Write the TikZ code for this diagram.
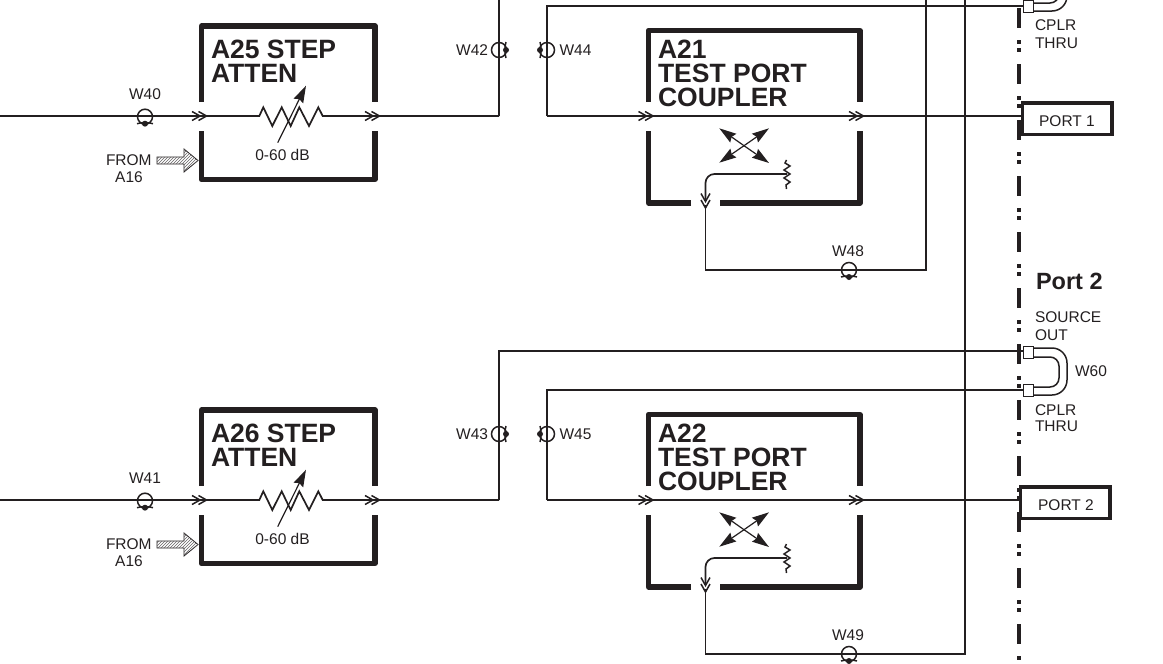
\documentclass[tikz,border=0pt]{standalone}
\usepackage{fontspec}
\setmainfont{Liberation Sans}
\usetikzlibrary{arrows.meta,patterns}
\definecolor{ink}{HTML}{231F20}
\tikzset{
  x=1pt,y=-1pt,
  every node/.style={inner sep=0pt,outer sep=0pt,text=ink},
  wire/.style={draw=ink,line width=1.7pt,line join=miter},
  frame/.style={draw=ink,line width=5.4pt,line join=round,line cap=butt},
  thin wire/.style={draw=ink,line width=1.5pt},
  small/.style={font=\fontsize{15.5}{17}\selectfont},
  title/.style={font=\fontsize{26.5}{28}\selectfont\bfseries,anchor=base west},
  big tip/.style={-{Stealth[length=17pt,width=10.5pt,inset=2pt]}},
  chevrons/.pic={
    \draw[thin wire,fill=none] (-8,-4.5)--(0,0)--(-8,4.5);
    \draw[thin wire,fill=none] (-1.5,-4.5)--(6.5,0)--(-1.5,4.5);
  },
  wsym/.pic={
    \draw[thin wire] (0,0) circle (7.5);
    \fill[ink] (0,7) circle (3);
    \draw[thin wire] (-8,7) .. controls (-3,5.5) and (3,5.5) .. (8,7);
  },
  connsq/.style={draw=ink,fill=white,line width=1.4pt,minimum width=10.5pt,minimum height=12.5pt}
}
\newcommand{\portrow}[8]{%
  % #1 prefix, #2 atten title, #3 input wire label, #4 left wire label, #5 right wire label
  % #6 coupler title, #7 return label baseline, #8 return wire label
  \coordinate (#1in) at (0,116);
  \coordinate (#1up) at (499,116);
  \coordinate (#1cin) at (547,116);
  \coordinate (#1cout) at (1021,116);
  % attenuator box
  \draw[frame] (201.5,102)--(201.5,26)--(375,26)--(375,102);
  \draw[frame] (375,131)--(375,179.5)--(201.5,179.5)--(201.5,131);
  \node[title] (#1att) at (211,58.3) {#2};
  \node[title] (#1attb) at (211,82.7) {ATTEN};
  % through line with resistor
  \draw[wire] (#1in)--(259.3,116)--(263.3,107.3)--(272.3,126)--(281.7,107.3)--(290.7,126)--(299.3,107.3)--(309,126)--(318.3,107.3)--(322.7,116)--(#1up);
  \draw[draw=ink,line width=1.2pt,big tip] (277.7,142.7)--(306,85.7);
  \node[small,anchor=base] (#1db) at (282.5,160) {0-60 dB};
  \pic at (200,116) {chevrons};
  \pic at (373,116) {chevrons};
  \pic at (145,116.7) {wsym};
  \node[small,anchor=base] (#1wa) at (145,99) {#3};
  % from A16
  \node[small,anchor=base west] (#1from) at (106,165) {FROM};
  \node[small,anchor=base] (#1afrom) at (129,182.7) {A16};
  \path[draw=ink,line width=.8pt,fill=white] (157,157)--(184,157)--(184,149)--(198,160.5)--(184,172)--(184,164)--(157,164)--cycle;
  \path[pattern=north east lines,pattern color=ink!70] (157,157)--(184,157)--(184,149)--(198,160.5)--(184,172)--(184,164)--(157,164)--cycle;
  % coupler box
  \draw[frame] (648.5,102)--(648.5,30.5)--(860,30.5)--(860,102);
  \draw[frame] (860,131)--(860,203)--(720,203);
  \draw[frame] (691,203)--(648.5,203)--(648.5,131);
  \node[title] (#1cpa) at (658,58) {#6};
  \node[title] (#1cpb) at (658,82.5) {TEST PORT};
  \node[title] (#1cpc) at (658,106) {COUPLER};
  \draw[wire] (#1cin)--(#1cout);
  \pic at (646.5,116) {chevrons};
  \pic at (857,116) {chevrons};
  \pic[rotate=90] at (499,50) {wsym};
  \pic[rotate=-90] at (547,50) {wsym};
  \node[small,anchor=base east] (#1wl) at (488,55) {#4};
  \node[small,anchor=base west] (#1wr) at (559.5,55) {#5};
  % cross arrows
  \coordinate (#1x) at (744,145.7);
  \draw[draw=ink,line width=1.2pt,big tip] (#1x)--(719.3,128.3);
  \draw[draw=ink,line width=1.2pt,big tip] (#1x)--(769,128.3);
  \draw[draw=ink,line width=1.2pt,big tip] (#1x)--(719.3,162.7);
  \draw[draw=ink,line width=1.2pt,big tip] (#1x)--(769,163);
  % coupled arm
  \coordinate (#1term) at (787,174);
  \draw[wire,rounded corners=9pt] (#1term)--(705.5,174)--(705.5,200);
  \draw[thin wire] (786.5,160)--(785,163)--(790,166)--(784,170)--(790,174)--(784,178)--(790,182)--(786,185)--(786.5,189);
  \pic[rotate=-90] at (705.5,201.5) {chevrons};
  \node[small,anchor=base] (#1wret) at (848,#7) {#8};
}
\begin{document}
\begin{tikzpicture}
\useasboundingbox (0,0) rectangle (1163,664);
\clip (0,0) rectangle (1163,664);
% dash-dot boundary
\draw[draw=ink,line width=3.4pt,dash pattern=on 20pt off 12pt on 4pt off 4pt on 4pt off 12pt] (1019,8)--(1019,664);
% rows
\portrow{a}{A25 STEP}{W40}{W42}{W44}{A21}{256}{W48}
\begin{scope}[shift={(0,384)}]
\portrow{b}{A26 STEP}{W41}{W43}{W45}{A22}{256}{W49}
\end{scope}
% feedback and through wires
\coordinate (topA) at (499,0);
\coordinate (srcB) at (1023,351);
\coordinate (thrA) at (1023,6);
\coordinate (thrB) at (1023,390);
\coordinate (retA) at (705.5,205);
\coordinate (retB) at (705.5,589);
\draw[wire] (499,116)--(topA);
\draw[wire] (547,116)--(547,6)--(thrA);
\draw[wire] (499,500)--(499,351)--(srcB);
\draw[wire] (547,500)--(547,390)--(thrB);
\draw[wire] (retA)--(705.5,270)--(926,270)--(926,0);
\draw[wire] (retB)--(705.5,654)--(965,654)--(965,0);
\pic at (849,270) {wsym};
\pic at (849,654) {wsym};
% U links
\draw[thin wire,rounded corners=15pt] (1034,-36)--(1067,-36)--(1067,11)--(1034,11);
\draw[thin wire,rounded corners=9pt] (1034,-27)--(1059,-27)--(1059,3)--(1034,3);
\draw[thin wire,rounded corners=15pt] (1034,348)--(1067,348)--(1067,395)--(1034,395);
\draw[thin wire,rounded corners=9pt] (1034,357)--(1059,357)--(1059,387)--(1034,387);
\node[connsq] (sqa) at (1028.5,6.5) {};
\node[connsq] (sqb) at (1028.5,352.5) {};
\node[connsq] (sqc) at (1028.5,390.5) {};
% side labels
\node[small,anchor=base west] (c1) at (1035,30.7) {CPLR};
\node[small,anchor=base west] (t1) at (1035,48.3) {THRU};
\node[font=\fontsize{23.5}{26}\selectfont\bfseries,anchor=base west] (p2) at (1036,289.3) {Port 2};
\node[small,anchor=base west] (so) at (1035,322.7) {SOURCE};
\node[small,anchor=base west] (ou) at (1035,340.7) {OUT};
\node[small,anchor=base west] (w60) at (1075,376.7) {W60};
\node[small,anchor=base west] (c2) at (1035,415) {CPLR};
\node[small,anchor=base west] (t2) at (1035,431.7) {THRU};
% port boxes
\draw[draw=ink,line width=3.4pt,fill=white] (1022.5,103) rectangle (1112,134.5);
\draw[draw=ink,line width=3.4pt,fill=white] (1020.5,487) rectangle (1110,518.5);
\node[small,anchor=base] (pa) at (1067,126) {PORT 1};
\node[small,anchor=base] (pb) at (1066,510) {PORT 2};
\end{tikzpicture}
\end{document}
